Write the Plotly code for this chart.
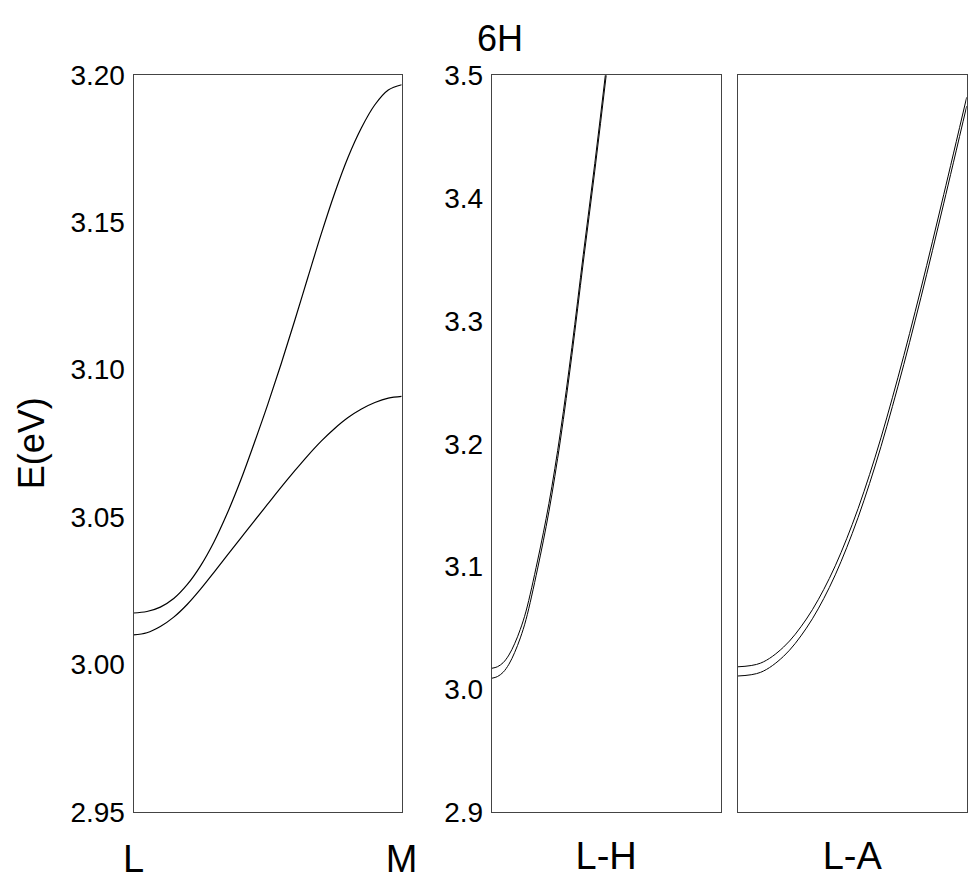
import plotly.graph_objects as go

# ---------------- data ----------------
title_text = "6H"
y_title = "E(eV)"

# Panel 1: L -> M
lm_k = [0, 0.05, 0.1, 0.15, 0.2, 0.25, 0.3, 0.35, 0.4, 0.45, 0.5,
        0.55, 0.6, 0.65, 0.7, 0.75, 0.8, 0.85, 0.9, 0.95, 1.0]
lm_upper = [3.0174, 3.0179, 3.0194, 3.0223, 3.0270, 3.0334, 3.0415, 3.0513, 3.0625, 3.0750, 3.0880,
            3.1018, 3.1163, 3.1312, 3.1460, 3.1598, 3.1720, 3.1820, 3.1898, 3.1948, 3.1966]
lm_lower = [3.0100, 3.0107, 3.0128, 3.0160, 3.0203, 3.0255, 3.0312, 3.0370, 3.0428, 3.0486, 3.0543,
            3.0600, 3.0655, 3.0708, 3.0757, 3.0800, 3.0837, 3.0866, 3.0888, 3.0903, 3.0909]
lm_ticks = [0, 1]
lm_ticktext = ["L", "M"]
lm_yticks = [2.95, 3.00, 3.05, 3.10, 3.15, 3.20]
lm_yticktext = ["2.95", "3.00", "3.05", "3.10", "3.15", "3.20"]

# Panel 2: L -> H
lh_k = [0, 0.025, 0.05, 0.075, 0.1, 0.125, 0.15, 0.2, 0.25, 0.3, 0.35, 0.4, 0.45, 0.5, 0.55]
lh_lower = [3.0091, 3.0105, 3.0140, 3.0205, 3.0300, 3.0420, 3.0570, 3.0980, 3.1450, 3.2030,
            3.2720, 3.3480, 3.4220, 3.5000, 3.5800]
lh_upper = [3.0172, 3.0185, 3.0218, 3.0280, 3.0372, 3.0490, 3.0638, 3.1046, 3.1515, 3.2094,
            3.2783, 3.3542, 3.4281, 3.5060, 3.5860]
lh_yticks = [2.9, 3.0, 3.1, 3.2, 3.3, 3.4, 3.5]
lh_yticktext = ["2.9", "3.0", "3.1", "3.2", "3.3", "3.4", "3.5"]

# Panel 3: L -> A
la_k = [0, 0.1, 0.2, 0.3, 0.4, 0.5, 0.6, 0.7, 0.8, 0.9, 1.0]
la_lower = [3.0103, 3.0133, 3.0263, 3.0493, 3.0823, 3.1263, 3.1813, 3.2463, 3.3183, 3.3953, 3.4743]
la_upper = [3.0178, 3.0208, 3.0338, 3.0567, 3.0897, 3.1336, 3.1885, 3.2535, 3.3255, 3.4025, 3.4815]

panel_labels = ["L-H", "L-A"]

# ---------------- figure ----------------
W, H = 969, 888
FONT = "Liberation Sans, Arial, sans-serif"
line = dict(color="black", width=1.2)
thin = dict(color="black", width=1.0)

fig = go.Figure()
fig.add_trace(go.Scatter(x=lm_k, y=lm_upper, mode="lines", line=line, line_shape="spline",
                         xaxis="x", yaxis="y", showlegend=False))
fig.add_trace(go.Scatter(x=lm_k, y=lm_lower, mode="lines", line=line, line_shape="spline",
                         xaxis="x", yaxis="y", showlegend=False))
fig.add_trace(go.Scatter(x=lh_k, y=lh_upper, mode="lines", line=thin, line_shape="spline",
                         xaxis="x2", yaxis="y2", showlegend=False))
fig.add_trace(go.Scatter(x=lh_k, y=lh_lower, mode="lines", line=thin, line_shape="spline",
                         xaxis="x2", yaxis="y2", showlegend=False))
fig.add_trace(go.Scatter(x=la_k, y=la_upper, mode="lines", line=thin, line_shape="spline",
                         xaxis="x3", yaxis="y3", showlegend=False))
fig.add_trace(go.Scatter(x=la_k, y=la_lower, mode="lines", line=thin, line_shape="spline",
                         xaxis="x3", yaxis="y3", showlegend=False))

def px_x(a, b):
    return [a / W, b / W]

def px_y(top, bottom):
    return [1 - bottom / H, 1 - top / H]

frame = dict(showline=True, mirror=True, linecolor="#444", linewidth=1, showgrid=False,
             zeroline=False, ticks="", automargin=False)

fig.update_layout(
    width=W, height=H,
    margin=dict(l=0, r=0, t=0, b=0, autoexpand=False),
    paper_bgcolor="white", plot_bgcolor="white",
    font=dict(family=FONT, color="black"),
    xaxis=dict(domain=px_x(133.5, 401.7), range=[0, 1], anchor="y",
               tickvals=lm_ticks, ticktext=lm_ticktext, tickfont=dict(size=38),
               ticklabelstandoff=14, **frame),
    yaxis=dict(domain=px_y(74.7, 811.7), range=[2.95, 3.20], anchor="x",
               tickvals=lm_yticks, ticktext=lm_yticktext, tickfont=dict(size=28),
               ticklabelstandoff=2,
               title=dict(text=y_title, font=dict(size=36), standoff=14), **frame),
    xaxis2=dict(domain=px_x(491.7, 720.7), range=[0, 1], anchor="y2",
                showticklabels=False,
                title=dict(text=panel_labels[0], font=dict(size=38), standoff=30), **frame),
    yaxis2=dict(domain=px_y(75.3, 812.3), range=[2.9, 3.5], anchor="x2",
                tickvals=lh_yticks, ticktext=lh_yticktext, tickfont=dict(size=28),
                ticklabelstandoff=2, **frame),
    xaxis3=dict(domain=px_x(737.7, 966.7), range=[0, 1], anchor="y3",
                showticklabels=False,
                title=dict(text=panel_labels[1], font=dict(size=38), standoff=30), **frame),
    yaxis3=dict(domain=px_y(74.5, 811.5), range=[2.9, 3.5], anchor="x3",
                showticklabels=False, **frame),
    annotations=[dict(text=title_text, x=500 / W, y=1 - 38 / H, xref="paper", yref="paper",
                      showarrow=False, font=dict(size=36, family=FONT),
                      xanchor="center", yanchor="middle")],
)

fig.write_html("out.html")
